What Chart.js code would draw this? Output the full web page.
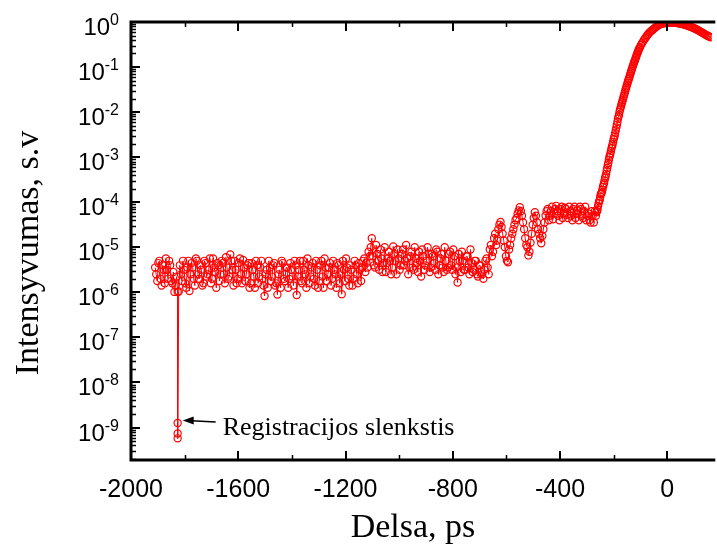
<!DOCTYPE html>
<html>
<head>
<meta charset="utf-8">
<script src="https://cdn.jsdelivr.net/npm/chart.js@4.4.0/dist/chart.umd.min.js"></script>
<style>
body { margin: 0; background: #fff; }
canvas { display: block; }
</style>
</head>
<body>
<canvas id="myChart" width="717" height="550"></canvas>
<script>
// delay in ps and log10 of intensity
const startDelay = [-1910,-1906,-1902,-1898,-1894,-1890,-1886,-1882,-1878,-1874,-1870,-1866,
  -1862,-1858,-1854,-1850,-1846,-1842,-1838,-1834,-1830];
const startLog = [-5.45,-5.6,-5.75,-5.35,-5.3,-5.7,-5.85,-5.4,-5.5,-5.8,-5.25,-5.5,
  -5.7,-5.3,-5.4,-5.75,-5.8,-5.55,-5.99,-5.85,-5.65];

// the drop to the detection threshold
const dropDelay = [-1826,-1826,-1826,-1826,-1822];
const dropLog = [-5.99,-8.9,-9.13,-9.24,-5.98];

// flat noise before -1120 ps, two interleaved sweeps
const baseDelay = [
  -1814,-1806,-1798,-1790,-1782,-1774,-1766,-1758,-1750,-1742,
  -1734,-1726,-1718,-1710,-1702,-1694,-1686,-1678,-1670,-1662,
  -1654,-1646,-1638,-1630,-1622,-1614,-1606,-1598,-1590,-1582,
  -1574,-1566,-1558,-1550,-1542,-1534,-1526,-1518,-1510,-1502,
  -1494,-1486,-1478,-1470,-1462,-1454,-1446,-1438,-1430,-1422,
  -1414,-1406,-1398,-1390,-1382,-1374,-1366,-1358,-1350,-1342,
  -1334,-1326,-1318,-1310,-1302,-1294,-1286,-1278,-1270,-1262,
  -1254,-1246,-1238,-1230,-1222,-1214,-1206,-1198,-1190,-1182,
  -1174,-1166,-1158,-1150,-1142,-1134,-1126,-1118];
const baseLog = [
  -5.6,-5.3,-5.8,-5.45,-5.97,-5.35,-5.7,-5.25,-5.6,-5.4,
  -5.85,-5.3,-5.65,-5.5,-5.8,-5.25,-5.55,-5.35,-5.75,-5.3,
  -5.6,-5.22,-5.7,-5.16,-5.5,-5.3,-5.8,-5.35,-5.6,-5.28,
  -5.75,-5.4,-5.9,-5.35,-5.65,-5.3,-5.8,-5.45,-5.7,-6.08,
  -5.5,-5.3,-5.75,-5.4,-5.85,-6.05,-5.5,-5.3,-5.7,-5.45,
  -5.9,-5.35,-5.65,-5.3,-6.06,-5.5,-5.75,-5.3,-5.6,-5.25,
  -5.8,-5.45,-5.7,-5.3,-5.9,-5.4,-5.65,-5.25,-5.75,-5.45,
  -5.85,-5.3,-5.6,-5.35,-5.8,-6.04,-5.5,-5.25,-5.7,-5.4,
  -5.85,-5.3,-5.6,-5.35,-5.75,-5.3,-5.55,-5.45];
const base2Delay = [
  -1818,-1810,-1802,-1794,-1786,-1778,-1770,-1762,-1754,-1746,
  -1738,-1730,-1722,-1714,-1706,-1698,-1690,-1682,-1674,-1666,
  -1658,-1650,-1642,-1634,-1626,-1618,-1610,-1602,-1594,-1586,
  -1578,-1570,-1562,-1554,-1546,-1538,-1530,-1522,-1514,-1506,
  -1498,-1490,-1482,-1474,-1466,-1458,-1450,-1442,-1434,-1426,
  -1418,-1410,-1402,-1394,-1386,-1378,-1370,-1362,-1354,-1346,
  -1338,-1330,-1322,-1314,-1306,-1298,-1290,-1282,-1274,-1266,
  -1258,-1250,-1242,-1234,-1226,-1218,-1210,-1202,-1194,-1186,
  -1178,-1170,-1162,-1154,-1146,-1138,-1130,-1122];
const base2Log = [
  -5.4,-5.75,-5.5,-5.9,-5.3,-5.6,-5.45,-5.85,-5.3,-5.7,
  -5.5,-5.8,-5.35,-5.6,-5.25,-5.7,-5.45,-5.9,-5.4,-5.6,
  -5.35,-5.8,-5.45,-5.65,-5.3,-5.85,-5.5,-5.7,-5.25,-5.8,
  -5.45,-5.6,-5.35,-5.8,-5.5,-5.9,-5.4,-5.65,-5.3,-5.85,
  -5.6,-5.9,-5.45,-5.65,-5.35,-5.8,-5.6,-5.9,-5.35,-5.75,
  -5.45,-5.7,-5.5,-5.85,-5.4,-5.65,-5.3,-5.8,-5.5,-5.9,
  -5.4,-5.65,-5.35,-5.85,-5.5,-5.75,-5.3,-5.9,-5.45,-5.6,
  -5.35,-5.7,-5.5,-5.9,-5.4,-5.6,-5.3,-5.75,-5.45,-5.85,
  -5.5,-5.7,-5.4,-5.8,-5.5,-5.45,-5.25,-5.35];

// raised noise from -1110 to -700 ps
const midDelay = [
  -1110,-1102,-1094,-1086,-1078,-1070,-1062,-1054,-1046,-1038,
  -1030,-1022,-1014,-1006,-998,-990,-982,-974,-966,-958,
  -950,-942,-934,-926,-918,-910,-902,-894,-886,-878,
  -870,-862,-854,-846,-838,-830,-822,-814,-806,-798,
  -790,-782,-774,-766,-758,-750,-742,-734,-726,-718,
  -710,-702];
const midLog = [
  -5.2,-4.8,-5.4,-4.95,-5.3,-5.05,-5.55,-5.0,-5.35,-5.1,
  -5.6,-4.98,-5.3,-5.05,-5.5,-5.15,-5.4,-4.95,-5.6,-5.2,
  -5.45,-5.0,-5.35,-5.1,-5.65,-5.2,-5.4,-5.0,-5.55,-5.15,
  -5.35,-5.05,-5.6,-5.25,-5.45,-5.0,-5.5,-5.15,-5.4,-5.05,
  -5.6,-5.78,-5.3,-5.1,-5.5,-5.2,-5.45,-5.05,-5.55,-5.3,
  -5.6,-5.4];
const mid2Delay = [
  -1114,-1106,-1098,-1090,-1082,-1074,-1066,-1058,-1050,-1042,
  -1034,-1026,-1018,-1010,-1002,-994,-986,-978,-970,-962,
  -954,-946,-938,-930,-922,-914,-906,-898,-890,-882,
  -874,-866,-858,-850,-842,-834,-826,-818,-810,-802,
  -794,-786,-778,-770,-762,-754,-746,-738,-730,-722,
  -714,-706];
const mid2Log = [
  -5.1,-5.0,-5.2,-5.45,-5.15,-5.5,-5.25,-5.35,-5.55,-5.25,
  -5.3,-5.45,-5.15,-5.6,-5.25,-5.4,-5.05,-5.3,-5.25,-5.45,
  -5.1,-5.5,-5.25,-5.55,-5.3,-5.05,-5.5,-5.3,-5.15,-5.45,
  -5.2,-5.5,-5.1,-5.4,-5.15,-5.55,-5.3,-5.45,-5.1,-5.5,
  -5.2,-5.45,-5.15,-5.55,-5.3,-5.5,-5.2,-5.6,-5.35,-5.5,
  -5.3,-5.65];

// oscillations and plateau before the rise
const rippleDelay = [
  -694,-686,-678,-670,-662,-654,-646,-638,-630,-622,
  -614,-606,-598,-590,-582,-574,-566,-558,-550,-542,
  -534,-526,-518,-510,-502,-494,-486,-478,-470,-462,
  -454,-446,-438,-430,-422,-414,-406,-398,-390,-382,
  -374,-366,-358,-350,-342,-334,-326,-318,-310,-302,
  -294,-286,-278,-270];
const rippleLog = [
  -5.55,-5.7,-5.3,-5.45,-5.05,-5.2,-4.8,-4.95,-4.6,-4.44,
  -4.7,-5.0,-5.3,-5.05,-4.8,-4.6,-4.4,-4.25,-4.11,-4.3,
  -4.6,-4.95,-5.18,-4.9,-4.5,-4.22,-4.45,-4.7,-4.91,-4.6,
  -4.3,-4.15,-4.3,-4.1,-4.25,-4.08,-4.3,-4.15,-4.35,-4.12,
  -4.28,-4.1,-4.3,-4.15,-4.35,-4.18,-4.1,-4.3,-4.2,-4.4,
  -4.25,-4.45,-4.3,-4.2];
const ripple2Delay = [
  -698,-690,-682,-674,-666,-658,-650,-642,-634,-626,
  -618,-610,-602,-594,-586,-578,-570,-562,-554,-546,
  -538,-530,-522,-514,-506,-498,-490,-482,-474,-466,
  -458,-450,-442,-434,-426,-418,-410,-402,-394,-386,
  -378,-370,-362,-354,-346,-338,-330,-322,-314,-306,
  -298,-290,-282,-274];
const ripple2Log = [
  -5.4,-5.6,-5.5,-5.25,-5.6,-4.95,-5.1,-4.7,-4.85,-4.5,
  -4.55,-4.85,-5.2,-5.33,-4.95,-4.7,-4.5,-4.35,-4.18,-4.2,
  -4.45,-4.8,-5.0,-5.1,-4.7,-4.35,-4.3,-4.6,-4.8,-4.75,
  -4.45,-4.2,-4.4,-4.2,-4.38,-4.15,-4.2,-4.4,-4.1,-4.25,
  -4.15,-4.35,-4.2,-4.4,-4.1,-4.25,-4.4,-4.15,-4.35,-4.1,
  -4.3,-4.4,-4.2,-4.45];

// steep rise and the peak near zero delay
const riseDelay = [
  -266,-262,-258,-254,-250,-246,-242,-238,-234,-230,
  -226,-222,-218,-214,-210,-206,-202,-198,-194,-190,
  -186,-182,-178,-174,-170,-166,-162,-158,-154,-150,
  -146,-142,-138,-134,-130,-126,-122,-118,-114,-110,
  -106,-102,-98,-94,-90,-86,-82,-78,-74,-70,
  -66,-62,-58,-54,-50,-46,-42,-38,-34,-30,
  -26,-22,-18,-14,-10,-6,-2,2,6,10,
  14,18,22,26,30,34,38,42,46,50,
  54,58,62,66,70,74,78,82,86,90,
  94,98,102,106,110,114,118,122,126,130,
  134,138,142,146,150,154,158,162];
const riseLog = [
  -4.3,-4.2,-4.08,-3.98,-3.88,-3.8,-3.72,-3.62,-3.52,-3.42,
  -3.3,-3.18,-3.06,-2.96,-2.86,-2.76,-2.66,-2.56,-2.46,-2.34,
  -2.22,-2.1,-1.99,-1.9,-1.81,-1.73,-1.64,-1.56,-1.47,-1.39,
  -1.31,-1.24,-1.16,-1.08,-1.01,-0.94,-0.87,-0.8,-0.73,-0.67,
  -0.61,-0.56,-0.51,-0.47,-0.43,-0.39,-0.36,-0.32,-0.29,-0.26,
  -0.23,-0.21,-0.19,-0.17,-0.15,-0.13,-0.11,-0.09,-0.075,-0.062,
  -0.05,-0.042,-0.035,-0.03,-0.025,-0.022,-0.02,-0.018,-0.016,-0.015,
  -0.014,-0.014,-0.015,-0.016,-0.018,-0.02,-0.024,-0.028,-0.032,-0.037,
  -0.042,-0.048,-0.055,-0.062,-0.07,-0.078,-0.087,-0.096,-0.105,-0.114,
  -0.123,-0.133,-0.143,-0.155,-0.167,-0.18,-0.193,-0.207,-0.221,-0.235,
  -0.25,-0.264,-0.278,-0.292,-0.305,-0.317,-0.328,-0.338];
const rise2Delay = [
  -264,-260,-256,-252,-248,-244,-240,-236,-232,-228,
  -224,-220,-216,-212,-208,-204,-200,-196,-192,-188,
  -184,-180,-176,-172,-168,-164,-160,-156,-152,-148,
  -144,-140,-136,-132,-128,-124,-120,-116,-112,-108,
  -104];
const rise2Log = [
  -4.22,-4.16,-4.02,-3.95,-3.82,-3.78,-3.66,-3.58,-3.46,-3.37,
  -3.24,-3.13,-3.0,-2.92,-2.8,-2.72,-2.6,-2.52,-2.4,-2.28,
  -2.15,-2.06,-1.94,-1.86,-1.77,-1.68,-1.6,-1.51,-1.43,-1.35,
  -1.27,-1.2,-1.12,-1.05,-0.97,-0.9,-0.84,-0.77,-0.7,-0.64,
  -0.58];

// axes
const xTicks = [-2000,-1600,-1200,-800,-400,0];
const xMinorTicks = [-1800,-1400,-1000,-600,-200];
const yExponents = [0,-1,-2,-3,-4,-5,-6,-7,-8,-9];
const xTitle = "Delsa, ps";
const yTitle = "Intensyvumas, s.v";
const noteText = "Registracijos slenkstis";
const noteDelay = -1826;
const noteLog = -8.9;

var points = [];
function addSegment(delays, logs)
{
  for (var i = 0; i < delays.length; i++)
    points.push({ x: delays[i], y: Math.pow(10, logs[i]) });
}
addSegment(startDelay, startLog);
addSegment(dropDelay, dropLog);
addSegment(baseDelay, baseLog);
addSegment(base2Delay, base2Log);
addSegment(midDelay, midLog);
addSegment(mid2Delay, mid2Log);
addSegment(rippleDelay, rippleLog);
addSegment(ripple2Delay, ripple2Log);
addSegment(riseDelay, riseLog);
addSegment(rise2Delay, rise2Log);
// put the sweeps in delay order (stable, so the drop keeps its order)
points.sort(function (p, q) { return p.x - q.x; });

// frame, inward ticks, labels, titles and the note
const decorPlugin = {
  id: 'decor',
  afterDraw(chart) {
    const ctx = chart.ctx;
    const a = chart.chartArea;
    const xs = chart.scales.x;
    const ys = chart.scales.y;
    ctx.save();
    ctx.strokeStyle = '#000';
    ctx.fillStyle = '#000';

    // y minor ticks
    ctx.lineWidth = 1.5;
    for (var n = -10; n <= -1; n++) {
      for (var k = 2; k <= 9; k++) {
        var v = k * Math.pow(10, n);
        if (v < ys.min || v > ys.max) continue;
        var py = Math.round(ys.getPixelForValue(v)) + 0.5;
        ctx.beginPath();
        ctx.moveTo(a.left, py);
        ctx.lineTo(a.left + 5, py);
        ctx.stroke();
      }
    }
    // y major ticks
    ctx.lineWidth = 2;
    yExponents.forEach(function (e) {
      var py = Math.round(ys.getPixelForValue(Math.pow(10, e)));
      ctx.beginPath();
      ctx.moveTo(a.left, py);
      ctx.lineTo(a.left + 9, py);
      ctx.stroke();
    });
    // x ticks, bottom and top
    xTicks.forEach(function (t) {
      var px = Math.round(xs.getPixelForValue(t));
      ctx.beginPath();
      ctx.moveTo(px, a.bottom); ctx.lineTo(px, a.bottom - 9);
      ctx.moveTo(px, a.top); ctx.lineTo(px, a.top + 9);
      ctx.stroke();
    });
    ctx.lineWidth = 1.5;
    xMinorTicks.forEach(function (t) {
      var px = Math.round(xs.getPixelForValue(t)) + 0.5;
      ctx.beginPath();
      ctx.moveTo(px, a.bottom); ctx.lineTo(px, a.bottom - 5);
      ctx.moveTo(px, a.top); ctx.lineTo(px, a.top + 5);
      ctx.stroke();
    });

    // frame
    ctx.lineWidth = 3;
    ctx.lineCap = 'square';
    ctx.beginPath();
    ctx.moveTo(a.right + 2, a.top);
    ctx.lineTo(a.left, a.top);
    ctx.lineTo(a.left, a.bottom);
    ctx.lineTo(a.right + 2, a.bottom);
    ctx.stroke();

    // y labels 10^n
    ctx.textBaseline = 'alphabetic';
    ctx.textAlign = 'left';
    yExponents.forEach(function (e) {
      var py = ys.getPixelForValue(Math.pow(10, e));
      var sup = String(e);
      ctx.font = '16px "Liberation Sans"';
      var supW = ctx.measureText(sup).width;
      ctx.font = '24px "Liberation Sans"';
      var baseW = ctx.measureText('10').width;
      var right = a.left - 12;
      ctx.fillText('10', right - supW - baseW, py + 13);
      ctx.font = '16px "Liberation Sans"';
      ctx.fillText(sup, right - supW, py + 3);
    });

    // x labels
    ctx.font = '25px "Liberation Sans"';
    ctx.textAlign = 'center';
    xTicks.forEach(function (t) {
      ctx.fillText(String(t), xs.getPixelForValue(t), a.bottom + 37);
    });

    // axis titles
    ctx.font = '34px "Liberation Serif"';
    ctx.fillText(xTitle, 413, 537);
    ctx.save();
    ctx.translate(38, 253);
    ctx.rotate(-Math.PI / 2);
    ctx.fillText(yTitle, 0, 0);
    ctx.restore();

    // note with arrow
    var nx = xs.getPixelForValue(noteDelay);
    var ny = ys.getPixelForValue(Math.pow(10, noteLog));
    ctx.lineWidth = 1.5;
    ctx.lineCap = 'butt';
    ctx.beginPath();
    ctx.moveTo(nx + 38, ny - 1);
    ctx.lineTo(nx + 14, ny - 2.2);
    ctx.stroke();
    ctx.beginPath();
    ctx.moveTo(nx + 5, ny - 2.5);
    ctx.lineTo(nx + 16, ny - 6.5);
    ctx.lineTo(nx + 16, ny + 1.5);
    ctx.closePath();
    ctx.fill();
    ctx.font = '26px "Liberation Serif"';
    ctx.textAlign = 'left';
    ctx.fillText(noteText, nx + 45, ny + 12);
    ctx.restore();
  }
};

var ctx = document.getElementById('myChart').getContext('2d');
var chart = new Chart(ctx, {
  type: 'scatter',
  data: {
    datasets: [{
      label: 'Intensyvumas',
      data: points,
      showLine: true,
      borderColor: '#ff0000',
      borderWidth: 1,
      backgroundColor: 'rgba(0,0,0,0)',
      pointBorderColor: '#ff0000',
      pointBackgroundColor: 'rgba(0,0,0,0)',
      pointBorderWidth: 1.2,
      pointRadius: 3.6,
      tension: 0
    }]
  },
  options: {
    responsive: false,
    animation: false,
    devicePixelRatio: 1,
    layout: { padding: { left: 131, top: 22, right: 0, bottom: 90 } },
    plugins: { legend: { display: false }, tooltip: { enabled: false } },
    scales: {
      x: { type: 'linear', min: -2000, max: 166, display: false },
      y: { type: 'logarithmic', min: Math.pow(10, -9.72), max: 1, display: false }
    }
  },
  plugins: [decorPlugin]
});
</script>
</body>
</html>
